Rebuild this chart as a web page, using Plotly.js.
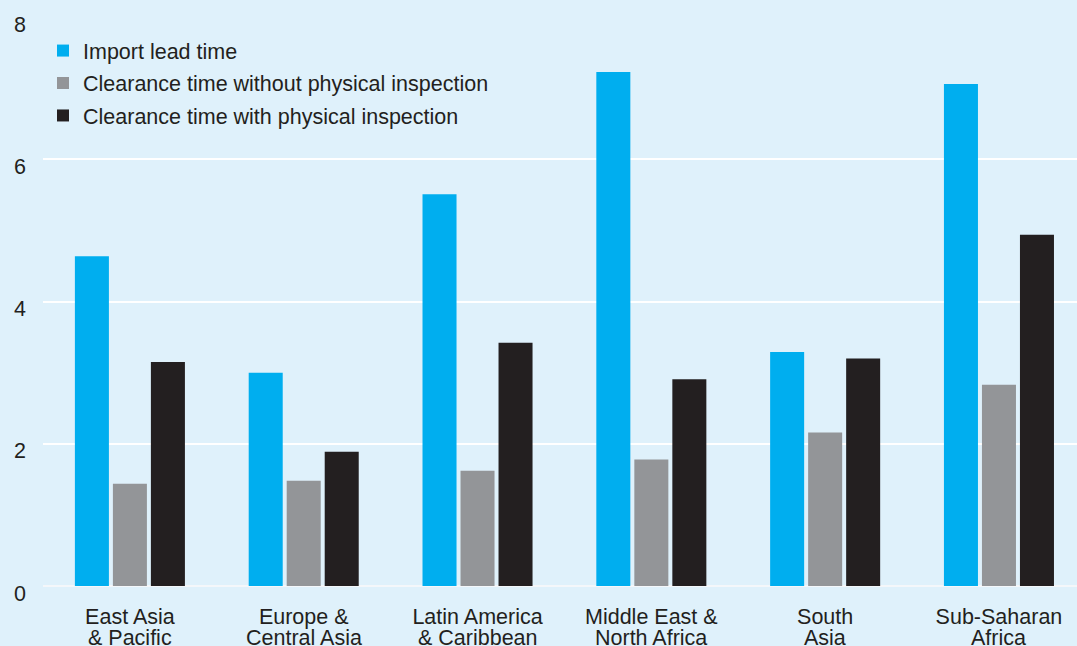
<!DOCTYPE html>
<html>
<head>
<meta charset="utf-8">
<script src="https://cdn.plot.ly/plotly-3.0.1.min.js"></script>
<style>
html,body{margin:0;padding:0;background:#dff1fb;}
#chart{width:1077px;height:646px;}
</style>
</head>
<body>
<div id="chart"></div>
<script>
var categories = ["East Asia<br>& Pacific", "Europe &<br>Central Asia", "Latin America<br>& Caribbean", "Middle East &<br>North Africa", "South<br>Asia", "Sub-Saharan<br>Africa"];
var seriesNames = ["Import lead time", "Clearance time without physical inspection", "Clearance time with physical inspection"];
var importLeadTime = [4.64, 3.00, 5.51, 7.23, 3.29, 7.06];
var clearanceWithout = [1.44, 1.48, 1.62, 1.78, 2.16, 2.83];
var clearanceWith = [3.15, 1.89, 3.42, 2.91, 3.20, 4.94];
var yTicks = [0, 2, 4, 6, 8];
var colors = ["#00aeef", "#939598", "#231f20"];

var values = [importLeadTime, clearanceWithout, clearanceWith];
var traces = values.map(function(v, i){
  return {
    type: "bar",
    name: seriesNames[i],
    x: categories,
    y: v,
    legendgroup: "g" + i,
    marker: {color: colors[i], line: {width: 0}},
    hoverinfo: "y"
  };
});

var font = {family: "Liberation Sans, Arial, sans-serif", size: 21.5, color: "#231f20"};

var firstLines = categories.map(function(c){ return c.split("<br>")[0]; });
var secondLines = categories.map(function(c){ return c.split("<br>")[1] || ""; });

var annotations = categories.map(function(c, i){
  return {
    xref: "x", yref: "paper", x: c, y: 0,
    text: secondLines[i], showarrow: false,
    xanchor: "center", yanchor: "top", yshift: -38,
    font: font
  };
});

var layout = {
  width: 1077,
  height: 646,
  margin: {l: 43, r: 0, t: 17, b: 60, pad: 0},
  paper_bgcolor: "#dff1fb",
  plot_bgcolor: "#dff1fb",
  font: font,
  barmode: "group",
  bargap: 0.344,
  bargroupgap: 0.105,
  showlegend: true,
  legend: {
    x: 0, y: 0.977, xanchor: "left", yanchor: "top",
    bgcolor: "rgba(0,0,0,0)",
    font: font,
    traceorder: "grouped",
    tracegroupgap: 1.5
  },
  annotations: annotations,
  xaxis: {
    type: "category",
    range: [-0.5, 5.449],
    showgrid: false,
    showline: false,
    zeroline: false,
    ticks: "",
    tickvals: categories,
    ticktext: firstLines,
    tickfont: font,
    ticklabelstandoff: 15
  },
  yaxis: {
    range: [0, 8.004],
    tickvals: yTicks,
    ticktext: yTicks.map(String),
    showgrid: true,
    gridcolor: "#ffffff",
    gridwidth: 2,
    zeroline: true,
    zerolinecolor: "#f4f7fa",
    zerolinewidth: 2,
    showline: false,
    ticks: "",
    tickfont: font,
    ticklabelstandoff: 16,
    ticklabelshift: 7
  }
};

Plotly.newPlot("chart", traces, layout, {displayModeBar: false, staticPlot: true});
</script>
</body>
</html>
